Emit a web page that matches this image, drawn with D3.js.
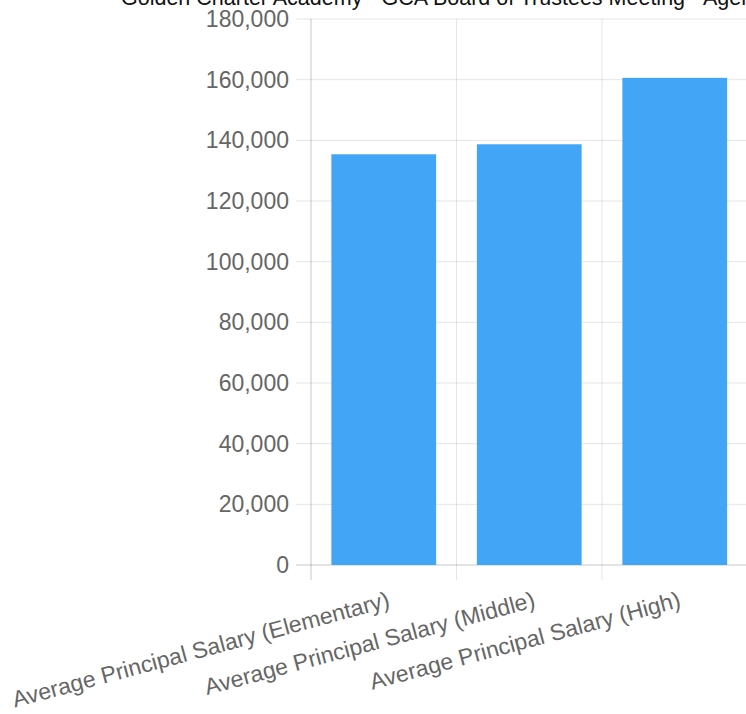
<!DOCTYPE html>
<html>
<head>
<meta charset="utf-8">
<script src="https://cdn.jsdelivr.net/npm/d3@7/dist/d3.min.js"></script>
<style>
  html, body { margin: 0; padding: 0; background: #fff; }
  svg { display: block; font-family: "Liberation Sans", Arial, sans-serif; }
</style>
</head>
<body>
<svg id="chart" width="746" height="714"></svg>
<script>
// Average principal salary by school level
const categories = [
  "Average Principal Salary (Elementary)",
  "Average Principal Salary (Middle)",
  "Average Principal Salary (High)"
];
const salaries = [135400, 138700, 160600];
const yTickValues = [0, 20000, 40000, 60000, 80000, 100000, 120000, 140000, 160000, 180000];
const titleText = "Golden Charter Academy - GCA Board of Trustees Meeting - Agenda";

const width = 746, height = 714;
const plot = { left: 311, right: 747.5, top: 19, bottom: 565 };
const tickFontSize = 23;
const titleFontSize = 21.5;

const svg = d3.select("#chart");

const x = d3.scaleBand()
  .domain(categories)
  .range([plot.left, plot.right])
  .paddingInner(0).paddingOuter(0);

const y = d3.scaleLinear()
  .domain([0, 180000])
  .range([plot.bottom, plot.top]);

const gridColor = "rgba(0,0,0,0.1)";
const axisColor = "rgba(0,0,0,0.22)";

// Title (wider than the view, so it runs off the right edge)
svg.append("text")
  .attr("x", 121)
  .attr("y", 5)
  .attr("font-size", titleFontSize)
  .attr("fill", "#111")
  .text(titleText);

// Horizontal grid lines with left tick marks
const grid = svg.append("g");
grid.selectAll("line.h")
  .data(yTickValues)
  .join("line")
  .attr("class", "h")
  .attr("x1", plot.left - 15)
  .attr("x2", width)
  .attr("y1", d => y(d))
  .attr("y2", d => y(d))
  .attr("stroke", d => d === 0 ? axisColor : gridColor)
  .attr("stroke-width", 1);

// Vertical grid lines at category boundaries, extending below the axis as ticks
const bounds = categories.map(c => x(c)).concat([x(categories[categories.length - 1]) + x.bandwidth()]);
grid.selectAll("line.v")
  .data(bounds)
  .join("line")
  .attr("class", "v")
  .attr("x1", d => d)
  .attr("x2", d => d)
  .attr("y1", plot.top)
  .attr("y2", plot.bottom + 15)
  .attr("stroke", (d, i) => i === 0 ? axisColor : gridColor)
  .attr("stroke-width", 1);

// Bars
svg.append("g")
  .selectAll("rect")
  .data(categories.map((c, i) => ({ c, v: salaries[i] })))
  .join("rect")
  .attr("x", d => x(d.c) + x.bandwidth() * 0.14)
  .attr("width", x.bandwidth() * 0.72)
  .attr("y", d => y(d.v))
  .attr("height", d => y(0) - y(d.v))
  .attr("fill", "#42a5f5");

// Y axis labels
const fmt = d3.format(",");
const yAxis = d3.axisLeft(y)
  .tickValues(yTickValues)
  .tickFormat(fmt)
  .tickSize(0)
  .tickPadding(22);
const gy = svg.append("g")
  .attr("transform", `translate(${plot.left},0)`)
  .call(yAxis);
gy.select(".domain").remove();
gy.selectAll("text")
  .attr("font-size", tickFontSize)
  .attr("font-family", "'Liberation Sans', Arial, sans-serif")
  .attr("fill", "#666");

// X axis labels, rotated
const xAxis = d3.axisBottom(x).tickSize(0).tickPadding(0);
const gx = svg.append("g")
  .attr("transform", `translate(0,${plot.bottom})`)
  .call(xAxis);
gx.select(".domain").remove();
gx.selectAll(".tick text")
  .attr("font-size", tickFontSize)
  .attr("font-family", "'Liberation Sans', Arial, sans-serif")
  .attr("fill", "#666")
  .attr("text-anchor", "end")
  .attr("dy", "0.35em")
  .attr("y", 0)
  .attr("transform", "translate(5,34) rotate(-15)");
</script>
</body>
</html>
